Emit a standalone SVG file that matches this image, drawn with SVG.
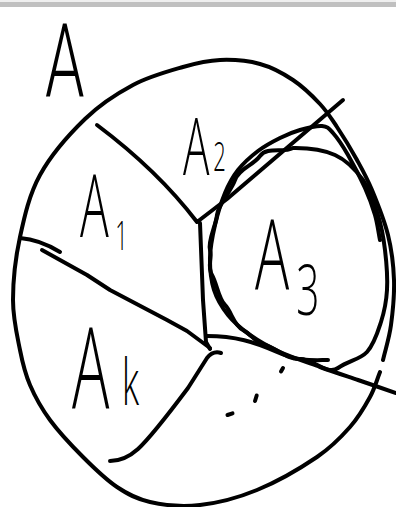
<svg xmlns="http://www.w3.org/2000/svg" width="396" height="507" viewBox="0 0 396 507">
<style>
.ink{fill:none;stroke:#000;stroke-width:4;stroke-linecap:round;stroke-linejoin:round}
.lbl{font-family:"Open Sans","Liberation Sans",Arial,sans-serif;font-weight:300;fill:#000}
.big{font-family:Roboto,"Liberation Sans",Arial,sans-serif;font-weight:300;fill:#000}
</style>
<rect x="0" y="0" width="396" height="507" fill="#fff"/>
<rect x="0" y="0" width="396" height="2" fill="#efefef"/>
<rect x="0" y="2" width="396" height="5" fill="#c0c0c0"/>
<g id="outer-set">
<path class="ink" d="M383,360 C385.7,348.3 389.2,338.3 391,325 S394.5,295 394,280 S391.7,250 388,235 S377.2,202.5 372,190 S362.8,170.5 357,160 S343.2,136.3 337,127 S327.3,111.8 320,104 S303,86.7 293,80 S272.2,67.3 260,64 S232.8,59.5 220,60 S197.5,62.8 183,67 S149.3,76.3 133,85 S100.5,104 85,119 S50.8,155.3 40,175 S24.5,216.2 20,237 S13,281.2 13,300 S17.2,335.8 20,350 S25,373.3 30,385 S41.2,408 50,420 S71.8,445.8 83,457 S105.8,479.5 117,487 S136.2,498.8 150,502 S182.2,507 200,505 S237.5,498 257,490 S301.5,467.5 317,457 S341.2,437 350,427 S365,406.2 370,397 S376.7,380.3 380,372"/>
</g>
<g id="connectors">
<path class="ink" d="M97,125 C125,146 165,180 197,222 L227,199 L343,100"/>
<path class="ink" d="M200,223 L203,300 L206,342 L210,349"/>
<path class="ink" d="M207,336 C235,336 255,342 277,352 S315,360 328,360"/>
<path class="ink" d="M20,238 C33,239 47,244 60,252"/>
<path class="ink" d="M42,250 L87,275 L110,290 L167,320 L187,331 L210,348"/>
<path class="ink" d="M221,353 C215,351 211,353 207,358 L188,388 C170,412 150,438 138,449 C128,458 118,461 110,461"/>
</g>
<g id="A3-region">
<path class="ink" d="M293,148 C305.5,147.8 323.3,149.7 335,155 S355.8,170 363,180 S374.3,203.3 378,215 S383.5,237.5 385,250 S387.7,278 387,290 S384.3,311.7 381,322 S374.2,344.3 367,352 S349.2,360.3 338,368 S311.2,357.8 300,359 S277.2,348.8 265,345 S252.5,334.8 243,330 S231.7,311.7 225,305 S217.2,284.2 212,275 S212.5,259.2 210,250 S216.2,225 217,215 S230.8,191.7 235,180 S252.8,165.8 260,156 S283.3,153.3 293,148 Z"/>
<path class="ink" d="M380,240 C378.3,231.7 377.5,223.7 375,215 S369.5,198 365,188 S353.3,164.2 348,155 S337.3,137.8 333,133 S327.5,126.5 322,126 S307,128 300,130 S287,134.5 280,138 S265,145.7 258,151 S243.5,163 238,170 S228.8,183.8 225,193 S217.5,214.2 215,225 S210.2,247.2 210,258 S211,280.5 214,290 S222,307.5 228,315 S241.3,328.8 250,335 S268.3,346.7 280,352 S307,362.3 320,367 S345.3,375.7 358,380 S383.3,388.7 396,393"/>
</g>
<g id="dots">
<path class="ink" d="M281,371.5 L283,368 M255,401 L256.7,395.5 M227.5,415 L232.5,413.3"/>
</g>
<g id="labels">
<text class="big" font-size="102" transform="translate(45,96) scale(0.62,1)">A</text>
<text class="lbl" font-size="87" transform="translate(80,237) scale(0.55,1)">A<tspan x="64" y="13" font-size="40">1</tspan></text>
<text class="lbl" font-size="80" transform="translate(183,175) scale(0.55,1)">A<tspan x="55" y="-4" font-size="40">2</tspan></text>
<text class="lbl" font-size="98" transform="translate(255,290) scale(0.58,1)">A<tspan x="71" y="25" font-size="70">3</tspan></text>
<text class="lbl" font-size="113" transform="translate(72,408) scale(0.55,1)">A<tspan x="91" y="-3" font-size="64">k</tspan></text>
</g>
</svg>
